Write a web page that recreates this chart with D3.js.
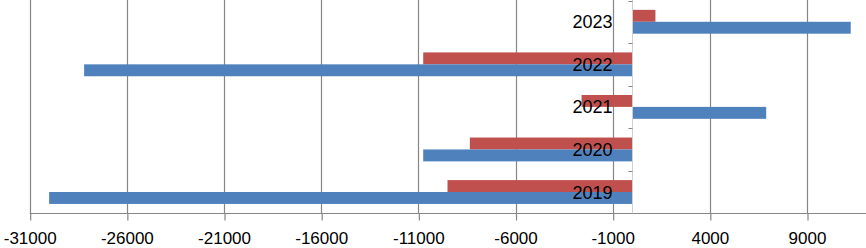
<!DOCTYPE html>
<html>
<head>
<meta charset="utf-8">
<script src="https://cdn.jsdelivr.net/npm/d3@7"></script>
<style>
  html, body { margin: 0; padding: 0; background: #fff; }
  svg { display: block; }
  text { font-family: "Liberation Sans", Arial, sans-serif; fill: #000; }
</style>
</head>
<body>
<svg id="chart" width="866" height="248"></svg>
<script>
const categories = ["2019", "2020", "2021", "2022", "2023"];
const blueValues = [-30000, -10750, 6900, -28200, 11250];
const redValues = [-9500, -8350, -2600, -10750, 1200];
const tickValues = [-31000, -26000, -21000, -16000, -11000, -6000, -1000, 4000, 9000];
const tickLabels = ["-31000", "-26000", "-21000", "-16000", "-11000", "-6000", "-1000", "4000", "9000"];

const W = 866, H = 248;
const svg = d3.select("#chart");

const left = 29.7, plotTop = 0.5, plotBottom = 213.3;
const pxPerUnit = (807 - 29.7) / 40000;
const x = d3.scaleLinear()
  .domain([-31000, 14000])
  .range([left, left + 45000 * pxPerUnit]);

const y = d3.scaleBand()
  .domain(categories.slice().reverse())
  .range([plotTop, plotBottom])
  .paddingInner(0)
  .paddingOuter(0);

const grey = "#868686";

// gridlines
svg.append("g").selectAll("line")
  .data(tickValues)
  .join("line")
  .attr("x1", d => Math.round(x(d)) + 0.5)
  .attr("x2", d => Math.round(x(d)) + 0.5)
  .attr("y1", plotTop - 1)
  .attr("y2", plotBottom)
  .attr("stroke", grey)
  .attr("stroke-width", 1.2);

// x axis
const xAxis = d3.axisBottom(x)
  .tickValues(tickValues)
  .tickFormat((d, i) => tickLabels[i])
  .tickSizeInner(7)
  .tickSizeOuter(0)
  .tickPadding(11.5);

const gx = svg.append("g")
  .attr("transform", `translate(0,${Math.round(plotBottom) + 0.5})`)
  .call(xAxis);
gx.select(".domain").remove();
gx.selectAll(".tick line").attr("stroke", grey).attr("stroke-width", 1.2)
  .attr("transform", "translate(0.5,0)");
gx.selectAll(".tick text")
  .attr("font-size", 17)
  .attr("font-family", "'Liberation Sans', Arial, sans-serif")
  .attr("fill", "#000");
gx.append("line")
  .attr("x1", x(-31000))
  .attr("x2", W)
  .attr("y1", 0).attr("y2", 0)
  .attr("stroke", grey)
  .attr("stroke-width", 1.2);

// bars
const groupH = y.bandwidth() * 0.56;
const barH = groupH / 2;
const data = categories.map((c, i) => ({ c, blue: blueValues[i], red: redValues[i] }));

const g = svg.append("g");
g.selectAll("rect.red")
  .data(data)
  .join("rect")
  .attr("class", "red")
  .attr("x", d => x(Math.min(0, d.red)))
  .attr("width", d => Math.abs(x(d.red) - x(0)))
  .attr("y", d => y(d.c) + (y.bandwidth() - groupH) / 2)
  .attr("height", barH)
  .attr("fill", "#c0504d");

g.selectAll("rect.blue")
  .data(data)
  .join("rect")
  .attr("class", "blue")
  .attr("x", d => x(Math.min(0, d.blue)))
  .attr("width", d => Math.abs(x(d.blue) - x(0)))
  .attr("y", d => y(d.c) + (y.bandwidth() - groupH) / 2 + barH)
  .attr("height", barH)
  .attr("fill", "#4f81bd");

// category axis at zero
const x0 = Math.round(x(0)) + 0.5;
svg.append("line")
  .attr("x1", x0).attr("x2", x0)
  .attr("y1", plotTop - 1).attr("y2", plotBottom)
  .attr("stroke", "#d0d0d0");

const boundaries = categories.map((c, i) => plotTop + i * y.step());
svg.append("g").selectAll("line")
  .data(boundaries)
  .join("line")
  .attr("x1", x0 - 4).attr("x2", x0)
  .attr("y1", d => Math.round(d) + 0.5)
  .attr("y2", d => Math.round(d) + 0.5)
  .attr("stroke", grey);

// category labels
svg.append("g").selectAll("text")
  .data(categories)
  .join("text")
  .attr("x", x0 - 20)
  .attr("y", d => y(d) + y.bandwidth() / 2)
  .attr("dy", "0.36em")
  .attr("text-anchor", "end")
  .attr("font-size", 18)
  .text(d => d);
</script>
</body>
</html>
